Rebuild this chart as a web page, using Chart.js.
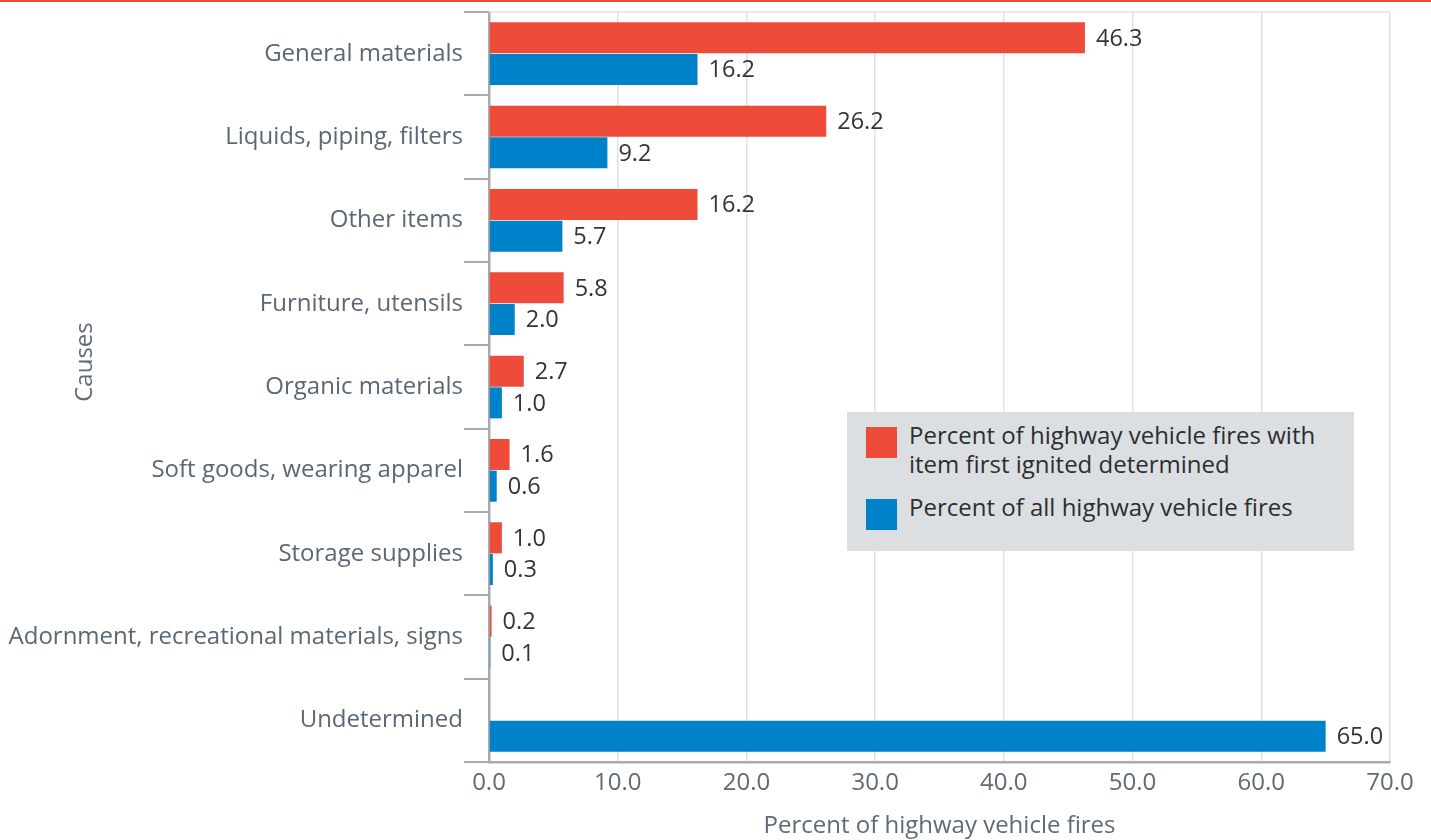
<!DOCTYPE html>
<html>
<head>
<meta charset="utf-8">
<script src="https://cdn.jsdelivr.net/npm/chart.js@4.4.1/dist/chart.umd.min.js"></script>
<style>
    html, body { margin: 0; padding: 0; background: #ffffff; }
    #wrap { position: relative; width: 1431px; height: 840px; }
    #topLine { position: absolute; left: 0; top: 0; width: 1431px; height: 2px; background: #ef4b3a; }
    #legend {
        position: absolute; left: 847px; top: 412px; width: 507px; height: 139px;
        background: #dcdfe2; font-family: "Open Sans", sans-serif; font-size: 24px;
        color: #2b2e31; line-height: 29px;
    }
    .swatch { position: absolute; left: 19px; width: 31px; height: 31px; }
    .label { position: absolute; left: 62px; white-space: nowrap; }
</style>
</head>
<body>
<div id="wrap">
    <canvas id="chart" width="1431" height="840"></canvas>
    <div id="topLine"></div>
    <div id="legend"></div>
</div>
<script>
const categories = [
    'General materials',
    'Liquids, piping, filters',
    'Other items',
    'Furniture, utensils',
    'Organic materials',
    'Soft goods, wearing apparel',
    'Storage supplies',
    'Adornment, recreational materials, signs',
    'Undetermined'
];
const determinedPct = [46.3, 26.2, 16.2, 5.8, 2.7, 1.6, 1.0, 0.2, null];
const allFiresPct = [16.2, 9.2, 5.7, 2.0, 1.0, 0.6, 0.3, 0.1, 65.0];
const seriesNames = [
    ['Percent of highway vehicle fires with', 'item first ignited determined'],
    ['Percent of all highway vehicle fires']
];
const xTicks = [0, 10, 20, 30, 40, 50, 60, 70];

const RED = '#ef4b3a';
const BLUE = '#0082ca';
const FONT = '"Open Sans", sans-serif';

// value labels + axis titles + top frame line
const extrasPlugin = {
    id: 'extras',
    afterDatasetsDraw(chart) {
        const ctx = chart.ctx;
        const area = chart.chartArea;
        ctx.save();
        ctx.strokeStyle = '#dfe2e5';
        ctx.lineWidth = 1.5;
        ctx.beginPath();
        ctx.moveTo(area.left, area.top);
        ctx.lineTo(area.right, area.top);
        ctx.stroke();

        ctx.font = '23.5px ' + FONT;
        ctx.fillStyle = '#30353a';
        ctx.textAlign = 'left';
        ctx.textBaseline = 'middle';
        chart.data.datasets.forEach((ds, i) => {
            chart.getDatasetMeta(i).data.forEach((bar, j) => {
                const v = ds.data[j];
                if (v === null || v === undefined) return;
                ctx.fillText(v.toFixed(1), bar.x + 11, bar.y + 1);
            });
        });

        ctx.font = '24px ' + FONT;
        ctx.fillStyle = '#5e6a76';
        ctx.textAlign = 'center';
        ctx.fillText('Percent of highway vehicle fires', (area.left + area.right) / 2, 826);
        ctx.translate(85, 362);
        ctx.rotate(-Math.PI / 2);
        ctx.fillText('Causes', 0, 0);
        ctx.restore();
    }
};

class VehicleFireBarChart {
    constructor(ctx) {
        this.chart = new Chart(ctx, {
            type: 'bar',
            data: {
                labels: categories,
                datasets: [
                    { label: seriesNames[0].join(' '), data: determinedPct, backgroundColor: RED },
                    { label: seriesNames[1].join(' '), data: allFiresPct, backgroundColor: BLUE }
                ]
            },
            options: this.chartOptions,
            plugins: [extrasPlugin]
        });
    }

    chartOptions = {
        indexAxis: 'y',
        responsive: false,
        animation: false,
        categoryPercentage: 0.76,
        barPercentage: 0.98,
        layout: { padding: { top: 12, right: 41, left: 0, bottom: 0 } },
        plugins: { legend: { display: false }, tooltip: { enabled: false } },
        scales: {
            x: {
                min: 0,
                max: 70,
                afterFit: (s) => { s.height = 78; },
                afterBuildTicks: (s) => { s.ticks = xTicks.map(v => ({ value: v })); },
                grid: { color: '#dfe2e5', lineWidth: 1.5, drawTicks: false },
                border: { color: '#a8abae', width: 2.5 },
                ticks: {
                    padding: 7,
                    color: '#5e6a76',
                    font: { family: FONT, size: 24 },
                    callback: (v) => Number(v).toFixed(1)
                }
            },
            y: {
                afterFit: (s) => { s.width = 489; },
                grid: { drawOnChartArea: false, color: '#a8abae', lineWidth: 2, tickLength: 25 },
                border: { color: '#a8abae', width: 2.5 },
                ticks: {
                    padding: 1,
                    color: '#5a6774',
                    // small lineHeight keeps the scale from pushing the plot top down
                    font: { family: FONT, size: 24, lineHeight: 0.85 }
                }
            }
        }
    };
}

function buildLegend() {
    const box = document.getElementById('legend');
    const swatchTops = [15, 87];
    const labelTops = [8, 80];
    const colors = [RED, BLUE];
    seriesNames.forEach((lines, i) => {
        const sw = document.createElement('div');
        sw.className = 'swatch';
        sw.style.top = swatchTops[i] + 'px';
        sw.style.background = colors[i];
        const lab = document.createElement('div');
        lab.className = 'label';
        lab.style.top = labelTops[i] + 'px';
        lab.innerHTML = lines.join('<br>');
        box.appendChild(sw);
        box.appendChild(lab);
    });
}

buildLegend();
window.vehicleChart = new VehicleFireBarChart(document.getElementById('chart'));
</script>
</body>
</html>
